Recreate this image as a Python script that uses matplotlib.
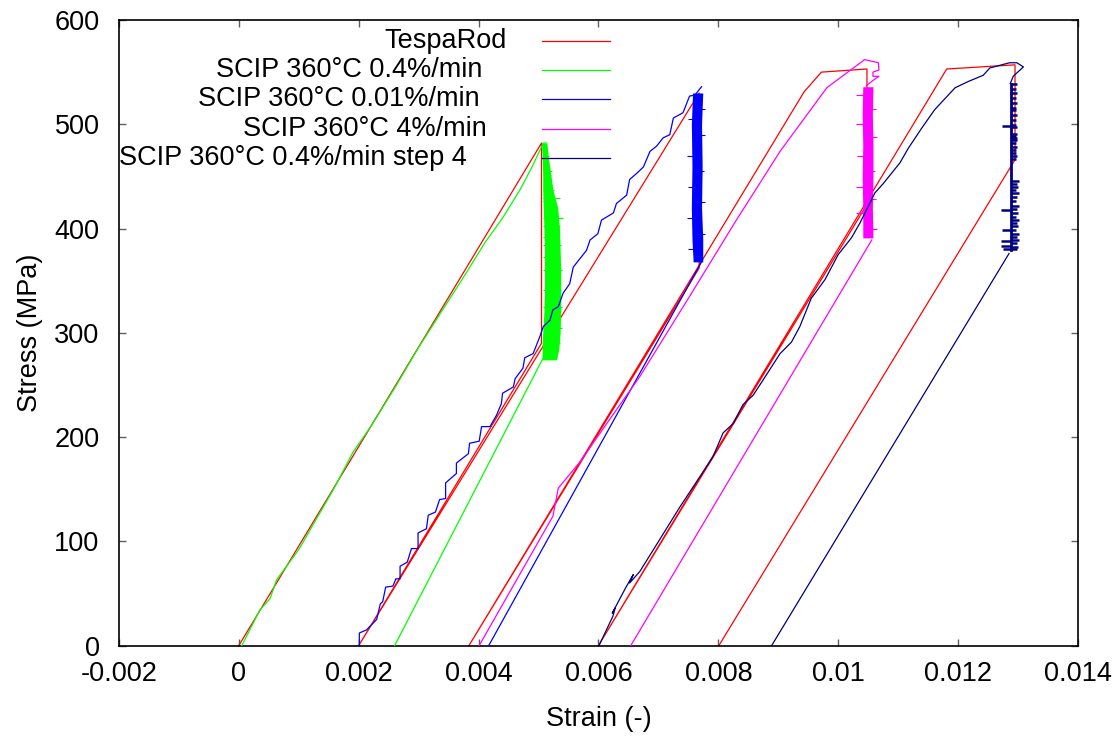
import matplotlib
matplotlib.use("Agg")
import matplotlib.pyplot as plt

plt.rcParams['font.family'] = ['Liberation Sans', 'DejaVu Sans']

# ---------------- data ----------------
# TespaRod model: loading, relaxation at constant strain, unloading (4 steps)
tespa_strain = [0.0, 0.00505, 0.00505, 0.0020, 0.00768, 0.00768, 0.00384, 0.00943,
                0.00972, 0.01048, 0.01048, 0.0060, 0.01181, 0.01295, 0.01295, 0.00801]
tespa_stress = [0, 482, 290, 0, 530, 362, 0, 531, 550, 553, 423, 0, 553, 557, 466, 0]

# SCIP 360°C 0.4%/min
green_load_strain = [0.00005, 0.00035, 0.00052, 0.00063, 0.0010, 0.0013, 0.0016, 0.0019,
                     0.0022, 0.0026, 0.0030, 0.0034, 0.0038, 0.0041, 0.0044, 0.0047,
                     0.0049, 0.00508, 0.00513]
green_load_stress = [0, 34, 45, 63, 92, 122, 152, 185, 210, 247, 286, 322, 358, 386,
                     410, 438, 460, 482, 482]
green_relax_stress = [482, 470, 450, 437, 420, 400, 380, 360, 340, 320, 300, 285, 274]
green_relax_left = [0.00505, 0.00506, 0.00507, 0.00507, 0.00508, 0.00509, 0.00510,
                    0.00510, 0.00510, 0.00509, 0.00507, 0.00506, 0.00506]
green_relax_right = [0.00514, 0.00516, 0.00521, 0.00524, 0.00532, 0.00535, 0.00536,
                     0.00537, 0.00537, 0.00537, 0.00536, 0.00534, 0.00530]
green_spike_stress = [470, 455, 437, 429, 426, 410, 402, 392, 384, 373, 360, 341, 325, 305, 290]
green_spike_tip = [0.00518, 0.00522, 0.00525, 0.00536, 0.00528, 0.00541, 0.00536, 0.00533,
                   0.00538, 0.00536, 0.00539, 0.00537, 0.00540, 0.00539, 0.00536]
green_unload_strain = [0.00507, 0.00260]
green_unload_stress = [275, 0]

# SCIP 360°C 0.01%/min
blue_load_strain = [0.00201, 0.00201, 0.00213, 0.00230, 0.00236, 0.00240, 0.00245, 0.00257,
                    0.00262, 0.00269, 0.00269, 0.00281, 0.00288, 0.00299, 0.00299, 0.00313,
                    0.00316, 0.00328, 0.00335, 0.00345, 0.00345, 0.00363, 0.00363, 0.00383,
                    0.00385, 0.00401, 0.00405, 0.00419, 0.00430, 0.00438, 0.00440, 0.00458,
                    0.00461, 0.00474, 0.00477, 0.00491, 0.00502, 0.00508, 0.00519, 0.00524,
                    0.00533, 0.00541, 0.00552, 0.00558, 0.00580, 0.00586, 0.00599, 0.00605,
                    0.00625, 0.00630, 0.00647, 0.00652, 0.00664, 0.00675, 0.00686, 0.00697,
                    0.00708, 0.00719, 0.00725, 0.00741, 0.00752, 0.00761, 0.00772]
blue_load_stress = [0, 12, 15, 25, 40, 42, 56, 57, 64, 64, 76, 80, 93, 93, 108, 112, 125,
                    128, 140, 141, 156, 165, 175, 184, 194, 196, 210, 210, 221, 232, 242,
                    248, 256, 266, 276, 280, 296, 306, 312, 322, 325, 338, 347, 363, 379,
                    389, 395, 408, 415, 424, 432, 447, 453, 459, 474, 479, 487, 490, 506,
                    511, 527, 528, 536]
blue_relax_stress = [530, 500, 460, 420, 390, 368]
blue_relax_left = [0.00757, 0.00755, 0.00756, 0.00755, 0.00756, 0.00758]
blue_relax_right = [0.00774, 0.00772, 0.00773, 0.00772, 0.00774, 0.00774]
blue_spike_stress = [515, 505, 490, 470, 455, 440, 425, 410, 395, 380]
blue_spike_tip = [0.00778, 0.00749, 0.00777, 0.00748, 0.00776, 0.00750, 0.00777,
                  0.00748, 0.00778, 0.00750]
blue_unload_strain = [0.00772, 0.00417]
blue_unload_stress = [368, 0]

# SCIP 360°C 4%/min
mag_load_strain = [0.00401, 0.00524, 0.00533, 0.00569, 0.00603, 0.00669, 0.00750, 0.00830,
                   0.00903, 0.00981, 0.01044, 0.01067, 0.01068, 0.01058, 0.01058, 0.01068,
                   0.01058, 0.01047]
mag_load_stress = [0, 124, 151, 176, 204, 258, 333, 408, 474, 535, 562, 559, 552, 550,
                   546, 546, 542, 537]
mag_relax_stress = [536, 510, 480, 450, 420, 391]
mag_relax_left = [0.01041, 0.01040, 0.01041, 0.01040, 0.01041, 0.01041]
mag_relax_right = [0.01058, 0.01057, 0.01058, 0.01058, 0.01057, 0.01058]
mag_spike_stress = [528, 515, 500, 488, 470, 455, 440, 428, 415, 400]
mag_spike_tip = [0.01029, 0.01063, 0.01030, 0.01064, 0.01031, 0.01062, 0.01029,
                 0.01063, 0.01030, 0.01064]
mag_unload_strain = [0.01056, 0.00654]
mag_unload_stress = [389, 0]

# SCIP 360°C 0.4%/min step 4
navy_load_strain = [0.00601, 0.00624, 0.00628, 0.00623, 0.00645, 0.00658, 0.00652, 0.00669,
                    0.00736, 0.00791, 0.00808, 0.00825, 0.00841, 0.00858, 0.00875, 0.00903,
                    0.00922, 0.00936, 0.00955, 0.00978, 0.01000, 0.01022, 0.01036, 0.01050,
                    0.01061, 0.01075, 0.01103, 0.01117, 0.01139, 0.01161, 0.01195, 0.01217,
                    0.01242, 0.01253, 0.01286, 0.01298, 0.01309, 0.01292, 0.01287]
navy_load_stress = [0, 28, 36, 31, 55, 68, 60, 71, 133, 181, 204, 213, 231, 240, 255, 280,
                    291, 306, 333, 351, 375, 391, 405, 421, 434, 443, 463, 477, 496, 514,
                    535, 541, 547, 554, 559, 559, 555, 546, 539]
navy_relax_strain = [0.012875, 0.012875]
navy_relax_stress = [539, 379]
navy_right_stress = [539, 534, 530, 525, 520, 516, 514, 509, 504, 499, 497, 491, 489, 487,
                     485, 482, 478, 475, 472, 470, 467, 446, 443, 440, 437, 434, 430, 426,
                     422, 419, 415, 411, 408, 405, 402, 399, 395, 392, 389, 386, 382, 380]
navy_right_tip = [0.01298, 0.01296, 0.01298, 0.01297, 0.01298, 0.01296, 0.01297, 0.01298,
                  0.01296, 0.01297, 0.01299, 0.01298, 0.01297, 0.01299, 0.01298, 0.01297,
                  0.01298, 0.01296, 0.01297, 0.01298, 0.01297, 0.01302, 0.01298, 0.01300,
                  0.01297, 0.01302, 0.01299, 0.01297, 0.01301, 0.01298, 0.01300, 0.01297,
                  0.01302, 0.01298, 0.01300, 0.01297, 0.01301, 0.01299, 0.01302, 0.01298,
                  0.01300, 0.01298]
navy_left_stress = [498, 418, 399, 388, 383, 380]
navy_left_tip = [0.01273, 0.01272, 0.01274, 0.01272, 0.01271, 0.01275]
navy_unload_strain = [0.01285, 0.00889]
navy_unload_stress = [376, 0]

legend_labels = ["TespaRod", "SCIP 360°C 0.4%/min", "SCIP 360°C 0.01%/min",
                 "SCIP 360°C 4%/min", "SCIP 360°C 0.4%/min step 4"]

x_ticks = [-0.002, 0.0, 0.002, 0.004, 0.006, 0.008, 0.010, 0.012, 0.014]
x_tick_labels = ["-0.002", "0", "0.002", "0.004", "0.006", "0.008", "0.01", "0.012", "0.014"]
y_ticks = [0, 100, 200, 300, 400, 500, 600]

# ---------------- drawing ----------------
RED, GREEN, BLUE, MAGENTA, NAVY = "#ff0000", "#00ff00", "#0000ff", "#ff00ff", "#000080"
LW = 0.9

fig = plt.figure(figsize=(11.16, 7.38), dpi=100)
ax = fig.add_axes([0.1066, 0.1253, 0.8593, 0.8476])

ax.plot(tespa_strain, tespa_stress, color=RED, lw=LW, zorder=2)


def relaxation(stress, left, right, color, zorder):
    ax.fill_betweenx(stress, left, right, color=color, lw=0, zorder=zorder)


ax.plot(green_load_strain, green_load_stress, color=GREEN, lw=LW, zorder=3)
relaxation(green_relax_stress, green_relax_left, green_relax_right, GREEN, 3)
ax.hlines(green_spike_stress, 0.00508, green_spike_tip, color=GREEN, lw=0.8, zorder=3)
ax.plot(green_unload_strain, green_unload_stress, color=GREEN, lw=LW, zorder=3)

ax.plot(blue_load_strain, blue_load_stress, color=BLUE, lw=LW, zorder=4)
relaxation(blue_relax_stress, blue_relax_left, blue_relax_right, BLUE, 4)
ax.hlines(blue_spike_stress, 0.00765, blue_spike_tip, color=BLUE, lw=0.8, zorder=4)
ax.plot(blue_unload_strain, blue_unload_stress, color=BLUE, lw=LW, zorder=4)

ax.plot(mag_load_strain, mag_load_stress, color=MAGENTA, lw=LW, zorder=5)
relaxation(mag_relax_stress, mag_relax_left, mag_relax_right, MAGENTA, 5)
ax.hlines(mag_spike_stress, 0.01050, mag_spike_tip, color=MAGENTA, lw=0.8, zorder=5)
ax.plot(mag_unload_strain, mag_unload_stress, color=MAGENTA, lw=LW, zorder=5)

ax.plot(navy_load_strain, navy_load_stress, color=NAVY, lw=LW, zorder=6)
ax.plot(navy_relax_strain, navy_relax_stress, color=NAVY, lw=2.0, zorder=6)
ax.hlines(navy_right_stress, 0.012875, navy_right_tip, color=NAVY, lw=1.8, zorder=6)
ax.hlines(navy_left_stress, 0.012875, navy_left_tip, color=NAVY, lw=1.8, zorder=6)
ax.plot(navy_unload_strain, navy_unload_stress, color=NAVY, lw=LW, zorder=6)

# key: right-aligned labels with short line samples
legend_colors = [RED, GREEN, BLUE, MAGENTA, NAVY]
legend_rows = [0.9669, 0.9201, 0.8732, 0.8262, 0.7788]
legend_text_right = [0.4043, 0.3793, 0.3764, 0.3834, 0.3625]
for label, color, yr, xr in zip(legend_labels, legend_colors, legend_rows, legend_text_right):
    ax.text(xr, yr, label, transform=ax.transAxes, ha="right", va="center",
            fontsize=19.5, zorder=8)
    ax.plot([0.4408, 0.512], [yr, yr], transform=ax.transAxes, color=color, lw=LW,
            zorder=8, clip_on=False)

ax.set_xlim(-0.002, 0.014)
ax.set_ylim(0, 600)
ax.set_xticks(x_ticks)
ax.set_xticklabels(x_tick_labels)
ax.set_yticks(y_ticks)
ax.set_yticklabels([str(v) for v in y_ticks])

ax.tick_params(direction="in", length=5, width=1, color="#606060", top=True, right=True,
               labelsize=19.5)
ax.tick_params(axis="x", pad=11)
ax.tick_params(axis="y", pad=14)
for sp in ax.spines.values():
    sp.set_linewidth(1.2)
    sp.set_color("black")

ax.set_xlabel("Strain (-)", fontsize=19.5)
ax.set_ylabel("Stress (MPa)", fontsize=19.5)
ax.xaxis.set_label_coords(0.5, -0.097)
ax.yaxis.set_label_coords(-0.079, 0.5)
ax.xaxis.label.set_va("top")

fig.savefig("out.png", dpi=100)
